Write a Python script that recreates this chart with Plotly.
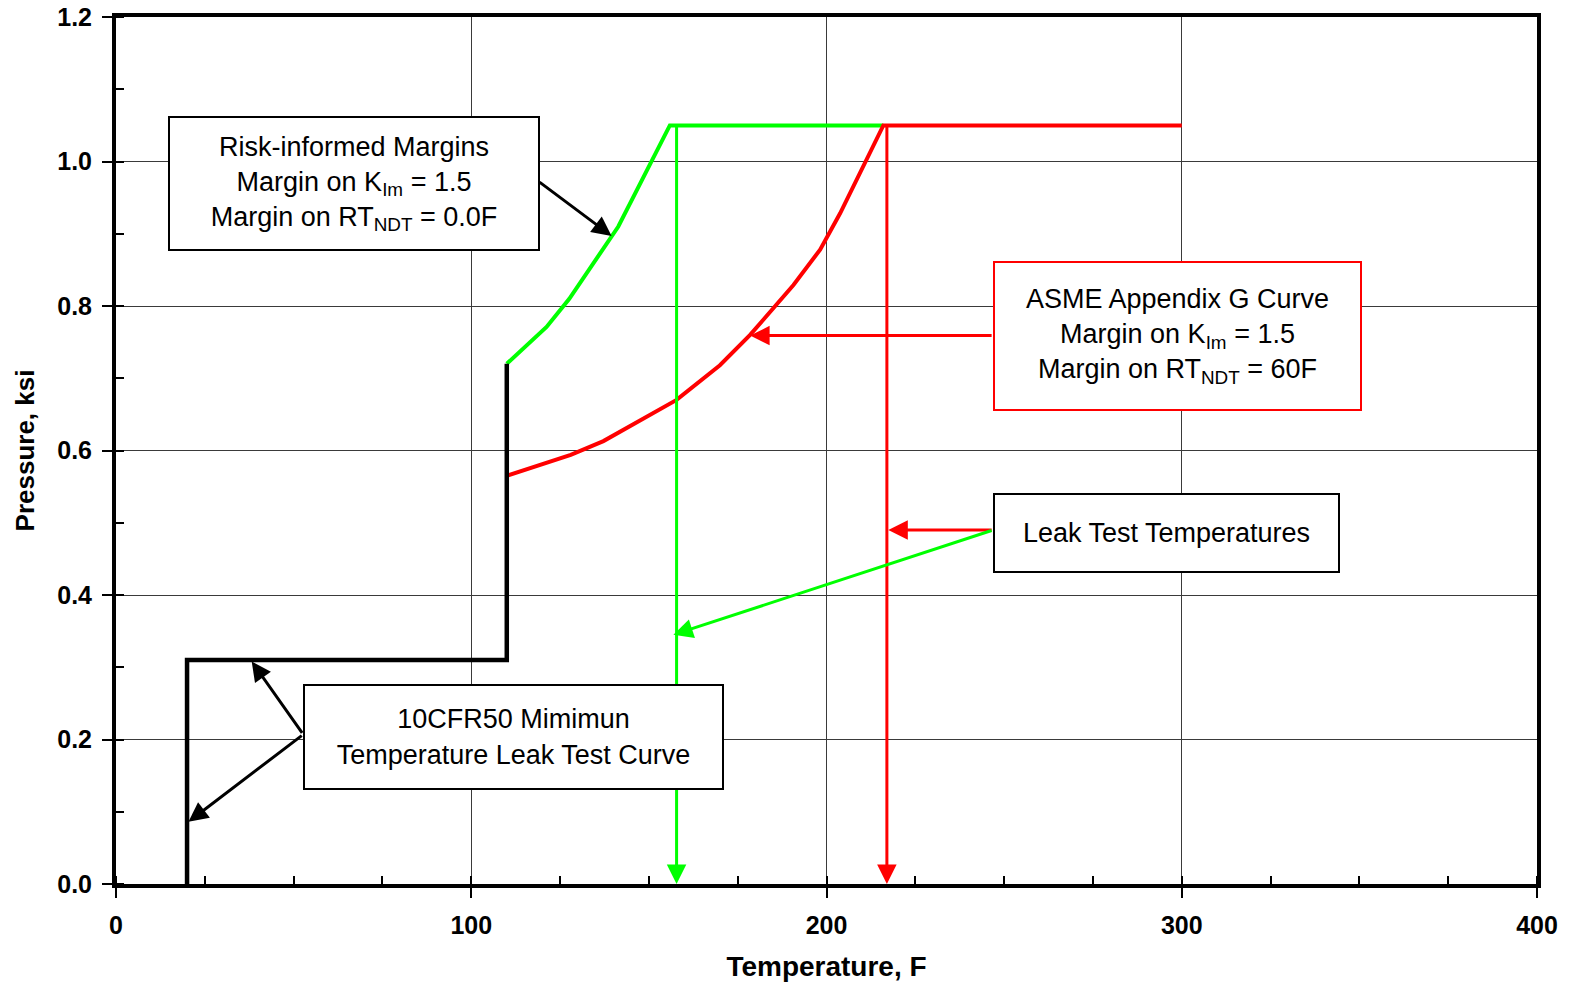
import plotly.graph_objects as go

# ---------------- data ----------------
cfr_temp = [20, 20, 110, 110]
cfr_press = [0.0, 0.31, 0.31, 0.72]

risk_temp = [110, 121.2, 127.6, 141.4, 155.9, 216.0]
risk_press = [0.72, 0.771, 0.810, 0.910, 1.05, 1.05]

asme_temp = [110, 128, 137.2, 157.8, 170, 178.5, 190.7, 198.2, 203.8, 216.0, 300]
asme_press = [0.565, 0.594, 0.613, 0.670, 0.718, 0.760, 0.829, 0.878, 0.928, 1.05, 1.05]

leak_temps = [157.8, 217.0]
leak_colors = ["#00FF00", "#FF0000"]
leak_top = 1.05

x_ticks = [0, 100, 200, 300, 400]
y_ticks = [0.0, 0.2, 0.4, 0.6, 0.8, 1.0, 1.2]
y_tick_text = ["0.0", "0.2", "0.4", "0.6", "0.8", "1.0", "1.2"]

FONT = "Arial, 'Liberation Sans', sans-serif"

fig = go.Figure()
fig.add_trace(go.Scatter(x=risk_temp, y=risk_press, mode="lines",
                         line=dict(color="#00FF00", width=4), showlegend=False))
fig.add_trace(go.Scatter(x=asme_temp, y=asme_press, mode="lines",
                         line=dict(color="#FF0000", width=4), showlegend=False))
fig.add_trace(go.Scatter(x=cfr_temp, y=cfr_press, mode="lines",
                         line=dict(color="#000000", width=4.5), showlegend=False))

ann = []
# leak test temperature vertical arrows
for t, c in zip(leak_temps, leak_colors):
    ann.append(dict(x=t, y=0.0, ax=t, ay=leak_top, xref="x", yref="y", axref="x", ayref="y",
                    text="", showarrow=True, arrowhead=2, arrowsize=1.3, arrowwidth=3,
                    arrowcolor=c, standoff=0))

def arrow(x, y, ax, ay, color):
    return dict(x=x, y=y, ax=ax, ay=ay, xref="x", yref="y", axref="x", ayref="y",
                text="", showarrow=True, arrowhead=2, arrowsize=1.3, arrowwidth=3,
                arrowcolor=color, standoff=0)

ann.append(arrow(139.5, 0.897, 118.8, 0.973, "black"))
ann.append(arrow(178.5, 0.759, 246.9, 0.759, "#FF0000"))
ann.append(arrow(217.4, 0.490, 246.9, 0.490, "#FF0000"))
ann.append(arrow(156.9, 0.345, 246.9, 0.490, "#00FF00"))
ann.append(arrow(38.2, 0.308, 52.7, 0.207, "black"))
ann.append(arrow(20.4, 0.086, 52.7, 0.207, "black"))

def box(x, y, w, h, text, border):
    return dict(x=x, y=y, xref="x", yref="y", xanchor="center", yanchor="middle",
                text=text, showarrow=False, align="center", valign="middle",
                width=w, height=h, bgcolor="white", bordercolor=border,
                borderwidth=2, borderpad=0,
                font=dict(family=FONT, size=27, color="black"))

ann.append(box(67.1, 0.970, 368, 131,
               "Risk-informed Margins<br>Margin on K<sub>Im</sub> = 1.5<br>Margin on RT<sub>NDT</sub> = 0.0F",
               "black"))
ann.append(box(298.7, 0.759, 365, 146,
               "ASME Appendix G Curve<br>Margin on K<sub>Im</sub> = 1.5<br>Margin on RT<sub>NDT</sub> = 60F",
               "#FF0000"))
ann.append(box(295.6, 0.4865, 343, 76, "Leak Test Temperatures", "black"))
ann.append(box(112.0, 0.2028, 417, 102,
               "10CFR50 Mimimun<br>Temperature Leak Test Curve", "black"))

axis_common = dict(showline=True, linecolor="black", linewidth=4, mirror=True,
                   showgrid=True, gridcolor="#3a3a3a", gridwidth=1, zeroline=False,
                   ticks="outside", ticklen=10, tickwidth=2, tickcolor="black",
                   automargin=False,
                   tickfont=dict(family=FONT, size=25, color="black", weight="bold"))

fig.update_layout(
    width=1571, height=982,
    margin=dict(l=116, r=34, t=17, b=98, autoexpand=False),
    plot_bgcolor="white", paper_bgcolor="white",
    showlegend=False,
    annotations=ann,
    xaxis=dict(range=[0, 400], tickmode="array", tickvals=x_ticks, ticklabelstandoff=6,
               minor=dict(dtick=25, ticks="inside", ticklen=8, tickwidth=2, tickcolor="black", showgrid=False),
               title=dict(text="Temperature, F", standoff=26,
                          font=dict(family=FONT, size=28, color="black", weight="bold")),
               **axis_common),
    yaxis=dict(range=[0, 1.2], tickmode="array", tickvals=y_ticks, ticktext=y_tick_text,
               ticklabelstandoff=5,
               minor=dict(dtick=0.1, ticks="inside", ticklen=8, tickwidth=2, tickcolor="black", showgrid=False),
               title=dict(text="Pressure, ksi", standoff=16,
                          font=dict(family=FONT, size=26, color="black", weight="bold")),
               **axis_common),
)

fig.write_html("out.html", config={"displayModeBar": False},
               post_script="document.body.style.margin='0';")
